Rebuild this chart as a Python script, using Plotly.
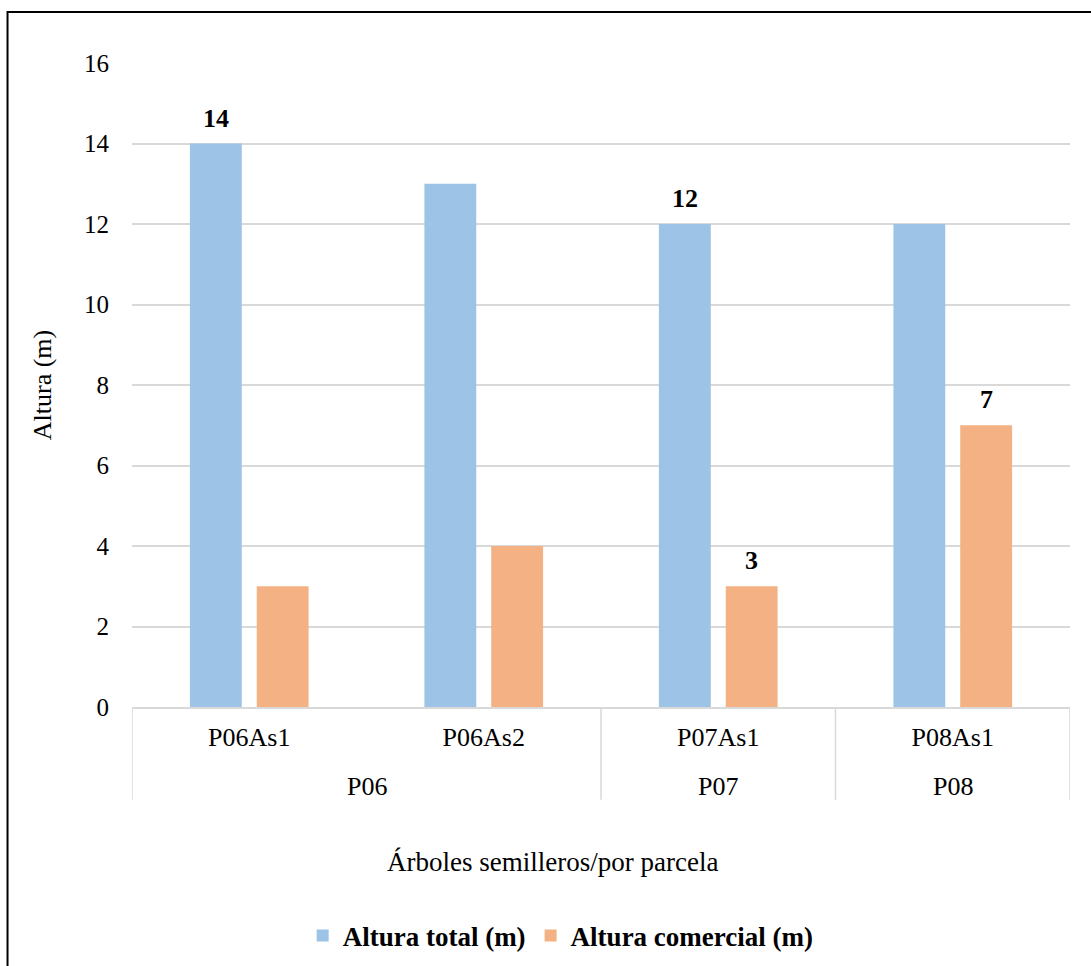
import plotly.graph_objects as go

# Seed trees and the plot (parcela) each one belongs to
arboles = ["P06As1", "P06As2", "P07As1", "P08As1"]
parcelas = ["P06", "P06", "P07", "P08"]

altura_total = [14, 13, 12, 12]
altura_comercial = [3, 4, 3, 7]

# Which bars carry a value label
etiqueta_total = [True, False, True, False]
etiqueta_comercial = [False, False, True, True]

y_ticks = [0, 2, 4, 6, 8, 10, 12, 14, 16]

FONT = "Liberation Serif, Times New Roman, serif"
AZUL = "#9DC3E6"
NARANJA = "#F4B183"
GRIS = "#d9d9d9"
BARGAP = 0.43
BARGROUPGAP = 0.224

x_idx = list(range(len(arboles)))

fig = go.Figure()
fig.add_trace(go.Bar(
    x=x_idx, y=altura_total, name="<b>Altura total (m)</b>",
    marker=dict(color=AZUL, line=dict(width=0)),
))
fig.add_trace(go.Bar(
    x=x_idx, y=altura_comercial, name="<b>Altura comercial (m)</b>",
    marker=dict(color=NARANJA, line=dict(width=0)),
))

# Bar label annotations: centred over each bar of the two-bar group
slot = (1 - BARGAP) / 2
annotations = []
for serie, flags, desplaz in ((altura_total, etiqueta_total, -slot / 2),
                              (altura_comercial, etiqueta_comercial, slot / 2)):
    for i, (v, show) in enumerate(zip(serie, flags)):
        if show:
            annotations.append(dict(
                x=i + desplaz, y=v, xref="x", yref="y", text=f"<b>{v}</b>",
                showarrow=False, yanchor="bottom", yshift=9,
                font=dict(family=FONT, size=26, color="black")))

# Group (parcela) labels and the dividers between groups
grupos = []
for i, p in enumerate(parcelas):
    if grupos and grupos[-1][0] == p:
        grupos[-1][2] = i
    else:
        grupos.append([p, i, i])

shapes = []
for nombre, ini, fin in grupos:
    annotations.append(dict(
        x=(ini + fin) / 2, y=-0.124, xref="x", yref="paper", text=nombre,
        showarrow=False, yanchor="middle",
        font=dict(family=FONT, size=26, color="black")))
bordes = [grupos[0][1] - 0.5] + [g[2] + 0.5 for g in grupos]
for b in bordes:
    shapes.append(dict(type="line", xref="x", yref="paper", x0=b, x1=b,
                       y0=0, y1=-0.144, line=dict(color=GRIS, width=1.5)))

# Axis title below the group labels
annotations.append(dict(
    x=0.4478, y=-0.2407, xref="paper", yref="paper",
    text="Árboles semilleros/por parcela", showarrow=False, yanchor="middle",
    font=dict(family=FONT, size=27, color="black")))

# Outer chart border
shapes.append(dict(type="rect", xref="paper", yref="paper",
                   x0=-0.1327, x1=1.03, y0=-0.6, y1=1.0792,
                   line=dict(color="black", width=2), fillcolor="rgba(0,0,0,0)",
                   layer="above"))

fig.update_layout(
    width=1091, height=966,
    margin=dict(l=132, r=21, t=63, b=259, autoexpand=False),
    paper_bgcolor="white", plot_bgcolor="white",
    font=dict(family=FONT, size=26, color="black"),
    barmode="group", bargap=BARGAP, bargroupgap=BARGROUPGAP,
    showlegend=True,
    legend=dict(orientation="h", x=0.457, xanchor="center", y=-0.3556, yanchor="middle",
                font=dict(family=FONT, size=27, color="black"),
                itemwidth=30, tracegroupgap=0),
    xaxis=dict(
        range=[-0.5, len(arboles) - 0.5],
        tickvals=x_idx, ticktext=arboles,
        showline=True, linecolor=GRIS, linewidth=1.5,
        ticks="", ticklabelstandoff=6,
        tickfont=dict(family=FONT, size=26, color="black"),
        showgrid=False, zeroline=False, automargin=False,
    ),
    yaxis=dict(
        range=[0, 16], tickvals=y_ticks,
        showgrid=True, gridcolor=GRIS, gridwidth=1.5,
        zeroline=False, showline=False, automargin=False,
        ticklabelstandoff=22,
        tickfont=dict(family=FONT, size=25, color="black"),
        title=dict(text="Altura (m)", font=dict(family=FONT, size=26, color="black"),
                   standoff=24),
    ),
    annotations=annotations,
    shapes=shapes,
)

fig.write_html("out.html")
